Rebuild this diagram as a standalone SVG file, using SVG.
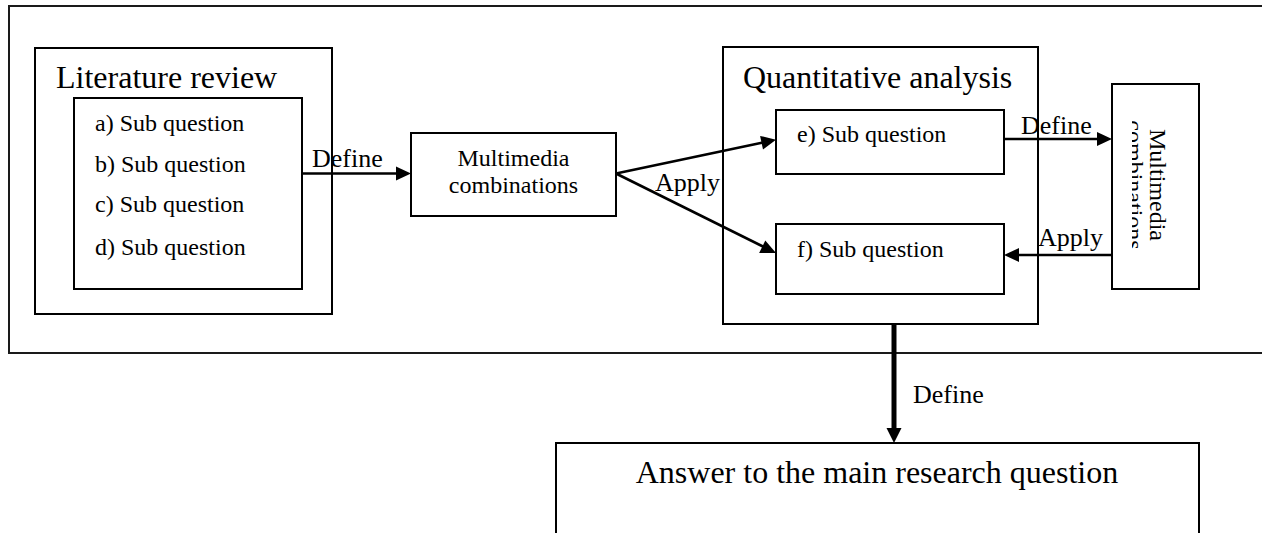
<svg xmlns="http://www.w3.org/2000/svg" width="1262" height="533" viewBox="0 0 1262 533">
  <style>
    .box { fill: #ffffff; stroke: #000000; stroke-width: 2; }
    .frame { fill: none; stroke: #1a1a1a; stroke-width: 2; }
    .wire { fill: none; stroke: #000000; stroke-width: 2.6; }
    .thick { fill: none; stroke: #000000; stroke-width: 5; }
    .head { fill: #000000; stroke: none; }
    text { font-family: "Liberation Serif", "Times New Roman", serif; fill: #000000; }
    .title { font-size: 32px; }
    .item { font-size: 24px; }
    .label { font-size: 26px; }
    .mid { text-anchor: middle; }
  </style>
  <defs>
    <clipPath id="vclip">
      <rect x="1132" y="84" width="67" height="205"/>
    </clipPath>
  </defs>

  <!-- enclosing frame, open on the right -->
  <g id="frame">
    <rect class="frame" x="9" y="6" width="1270" height="347"/>
  </g>

  <!-- literature review block -->
  <g id="literature-review">
    <rect class="box" x="35" y="48" width="297" height="266"/>
    <text class="title" x="56" y="88">Literature review</text>
  </g>
  <g id="sub-questions-a-d">
    <rect class="box" x="74" y="98" width="228" height="191"/>
    <text class="item" x="95" y="131">a) Sub question</text>
    <text class="item" x="95" y="172">b) Sub question</text>
    <text class="item" x="95" y="212">c) Sub question</text>
    <text class="item" x="95" y="255">d) Sub question</text>
  </g>

  <!-- first multimedia combinations node -->
  <g id="multimedia-1">
    <rect class="box" x="411" y="133" width="205" height="83"/>
    <text class="item mid" x="513.5" y="166">Multimedia</text>
    <text class="item mid" x="513.5" y="193">combinations</text>
  </g>

  <!-- quantitative analysis block -->
  <g id="quantitative-analysis">
    <rect class="box" x="723" y="47" width="315" height="277"/>
    <text class="title" x="743" y="88">Quantitative analysis</text>
  </g>
  <g id="sub-question-e">
    <rect class="box" x="776" y="110" width="228" height="64"/>
    <text class="item" x="797" y="142">e) Sub question</text>
  </g>
  <g id="sub-question-f">
    <rect class="box" x="776" y="224" width="228" height="70"/>
    <text class="item" x="797" y="257">f) Sub question</text>
  </g>

  <!-- second multimedia combinations node, vertical text cut by the box -->
  <g id="multimedia-2">
    <rect class="box" x="1112" y="84" width="87" height="205"/>
    <g clip-path="url(#vclip)">
      <g transform="translate(1150,185) rotate(90)">
        <text class="item mid" x="0" y="0">Multimedia</text>
        <text class="item mid" x="0" y="23">combinations</text>
      </g>
    </g>
  </g>

  <!-- answer block -->
  <g id="answer">
    <rect class="box" x="556" y="443" width="643" height="120"/>
    <text class="title mid" x="877" y="483">Answer to the main research question</text>
  </g>

  <!-- connectors -->
  <g id="connectors">
    <!-- sub questions a-d to multimedia -->
    <line class="wire" x1="302" y1="173.5" x2="398" y2="173.5"/>
    <polygon class="head" points="411,173.5 396,166.5 396,180.5"/>
    <text class="label" x="312" y="167">Define</text>

    <!-- multimedia to e) and f) -->
    <line class="wire" x1="616" y1="173.5" x2="763" y2="142.5"/>
    <polygon class="head" points="776,139.7 760.1,135.9 763.0,149.6"/>
    <line class="wire" x1="616" y1="173.5" x2="764" y2="247"/>
    <polygon class="head" points="776,253 765.3,240.6 759.1,253.1"/>
    <text class="label" x="655" y="191">Apply</text>

    <!-- e) to right multimedia -->
    <line class="wire" x1="1004" y1="139" x2="1099" y2="139"/>
    <polygon class="head" points="1112,139 1097,132 1097,146"/>
    <text class="label" x="1021" y="134">Define</text>

    <!-- right multimedia back to f) -->
    <line class="wire" x1="1112" y1="255" x2="1017" y2="255"/>
    <polygon class="head" points="1004,255 1019,248 1019,262"/>
    <text class="label" x="1038" y="246">Apply</text>

    <!-- quantitative analysis to answer -->
    <line class="thick" x1="894" y1="324" x2="894" y2="430"/>
    <polygon class="head" points="894,443 886.5,428 901.5,428"/>
    <text class="label" x="913" y="403">Define</text>
  </g>
</svg>
